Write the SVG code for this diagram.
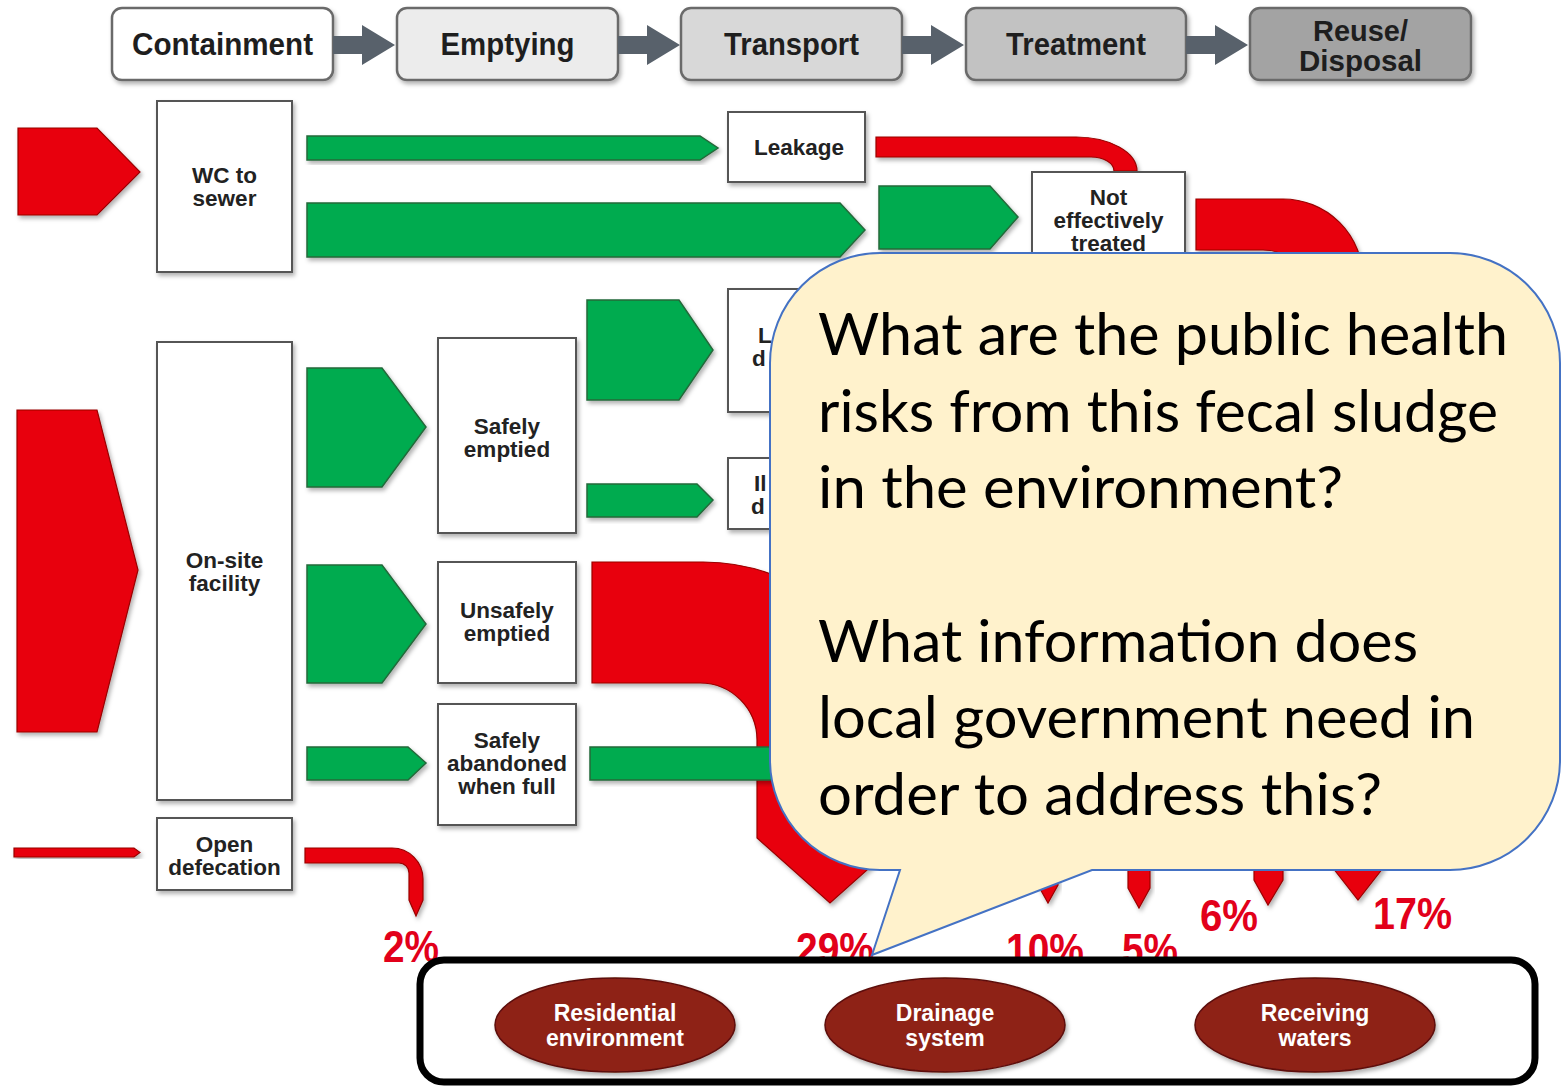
<svg xmlns="http://www.w3.org/2000/svg" width="1563" height="1086" viewBox="0 0 1563 1086">
<defs>
<filter id="sh" x="-10%" y="-10%" width="130%" height="130%"><feDropShadow dx="2" dy="3" stdDeviation="2" flood-color="#000" flood-opacity="0.3"/></filter>
<style>
.hb{stroke:#6b6b6b;stroke-width:2.5;filter:url(#sh)}
.ht{font-family:"Liberation Sans",Arial,sans-serif;font-weight:bold;font-size:32px;fill:#1e1e1e;text-anchor:middle}
.ht2{font-family:"Liberation Sans",Arial,sans-serif;font-weight:bold;font-size:29px;fill:#1e1e1e;text-anchor:middle}
.ha{fill:#58616b}
.box{fill:#fff;stroke:#555;stroke-width:2;filter:url(#sh)}
.bt{font-family:"Liberation Sans",Arial,sans-serif;font-weight:bold;font-size:22.5px;fill:#222;text-anchor:middle}
.bs{font-family:"Liberation Sans",Arial,sans-serif;font-weight:bold;font-size:22.5px;fill:#222}
.g{fill:#00ab4f;stroke:#24693a;stroke-width:1.5;filter:url(#sh)}
.r{fill:#e8000d;stroke:#9a0000;stroke-width:1.2;filter:url(#sh)}
.pc{font-family:"Liberation Sans",Arial,sans-serif;font-weight:bold;font-size:44px;fill:#e2001a}
.el{fill:#8e2118;stroke:#5c0e08;stroke-width:1.5;filter:url(#sh)}
.et{font-family:"Liberation Sans",Arial,sans-serif;font-weight:bold;font-size:23px;fill:#fff;text-anchor:middle}
.ct{font-family:Lato,"Open Sans",sans-serif;font-size:58px;fill:#000}
</style>
</defs>
<rect width="1563" height="1086" fill="#fff"/>

<g id="header">
  <g id="h-containment"><rect class="hb" x="112" y="8" width="221" height="72" rx="10" fill="#ffffff"/><text class="ht" x="222.5" y="55" textLength="181" lengthAdjust="spacingAndGlyphs">Containment</text></g>
  <g id="h-emptying"><rect class="hb" x="397" y="8" width="221" height="72" rx="10" fill="#ececec"/><text class="ht" x="507.5" y="55" textLength="134" lengthAdjust="spacingAndGlyphs">Emptying</text></g>
  <g id="h-transport"><rect class="hb" x="681" y="8" width="221" height="72" rx="10" fill="#d8d8d8"/><text class="ht" x="791.5" y="55" textLength="135" lengthAdjust="spacingAndGlyphs">Transport</text></g>
  <g id="h-treatment"><rect class="hb" x="966" y="8" width="220" height="72" rx="10" fill="#c2c2c2"/><text class="ht" x="1076" y="55" textLength="140" lengthAdjust="spacingAndGlyphs">Treatment</text></g>
  <g id="h-reuse"><rect class="hb" x="1250" y="8" width="221" height="72" rx="10" fill="#a3a3a3"/><text class="ht2" x="1360.5" y="41" textLength="95" lengthAdjust="spacingAndGlyphs">Reuse/</text><text class="ht2" x="1360.5" y="71" textLength="123" lengthAdjust="spacingAndGlyphs">Disposal</text></g>
  <g id="header-arrows">
    <polygon class="ha" points="333,36 362,36 362,25 395,45 362,65 362,54 333,54"/>
    <polygon class="ha" points="618,36 647,36 647,25 680,45 647,65 647,54 618,54"/>
    <polygon class="ha" points="902,36 931,36 931,25 964,45 931,65 931,54 902,54"/>
    <polygon class="ha" points="1186,36 1215,36 1215,25 1248,45 1215,65 1215,54 1186,54"/>
  </g>
</g>

<g id="connectors">
  <polygon class="r" points="18,128 97,128 140,172 97,215 18,215"/>
  <polygon class="r" points="17,410 97,410 138,570 97,732 17,732"/>
  <polygon class="r" points="14,848 134,848 140,852.5 134,857 14,857"/>
  <path class="r" d="M876,137 H1076 A61,34 0 0 1 1137,171 H1114 A23,14 0 0 0 1091,157 H876 Z"/>
  <path class="r" d="M1196,199 H1283 A80,80 0 0 1 1363,279 V320 H1313 V300 A50,50 0 0 0 1263,250 H1196 Z"/>
  <path class="r" d="M592,562 H703 A200,200 0 0 1 903,762 V838 L830,903 L757,838 V740 A57,57 0 0 0 700,683 H592 Z"/>
  <path class="r" d="M305,848 H392 A31,31 0 0 1 423,879 V900 L416,916 L409,900 V873 A10,10 0 0 0 399,863 H305 Z"/>
  <polygon class="r" points="1038,850 1058,850 1058,885 1048,903 1038,885"/>
  <polygon class="r" points="1128,850 1150,850 1150,888 1139,908 1128,888"/>
  <polygon class="r" points="1254,850 1283,850 1283,880 1268,905 1254,880"/>
  <polygon class="r" points="1333,850 1383,850 1383,868 1358,900 1333,868"/>
  <polygon class="g" points="307,136 700,136 718,148 700,160 307,160"/>
  <polygon class="g" points="307,203 840,203 865,230 840,257 307,257"/>
  <polygon class="g" points="879,186 990,186 1018,217 990,249 879,249"/>
  <polygon class="g" points="307,368 382,368 426,427 382,487 307,487"/>
  <polygon class="g" points="587,300 679,300 713,350 679,400 587,400"/>
  <polygon class="g" points="587,484 697,484 713,500 697,517 587,517"/>
  <polygon class="g" points="307,565 382,565 426,624 382,683 307,683"/>
  <polygon class="g" points="307,747 408,747 426,763 408,780 307,780"/>
  <polygon class="g" points="590,747 800,747 800,780 590,780"/>
</g>

<g id="n-wc"><rect class="box" x="157" y="101" width="135" height="171"/><text class="bt" x="224.5" y="183">WC to</text><text class="bt" x="224.5" y="206">sewer</text></g>
<g id="n-leakage"><rect class="box" x="728" y="112" width="137" height="70"/><text class="bt" x="799" y="155">Leakage</text></g>
<g id="n-noteff"><rect class="box" x="1032" y="172" width="153" height="90"/><text class="bt" x="1108.5" y="205">Not</text><text class="bt" x="1108.5" y="228">effectively</text><text class="bt" x="1108.5" y="251">treated</text></g>
<g id="n-onsite"><rect class="box" x="157" y="342" width="135" height="458"/><text class="bt" x="224.5" y="568">On-site</text><text class="bt" x="224.5" y="591">facility</text></g>
<g id="n-safely"><rect class="box" x="438" y="338" width="138" height="195"/><text class="bt" x="507" y="434">Safely</text><text class="bt" x="507" y="457">emptied</text></g>
<g id="n-legal"><rect class="box" x="728" y="289" width="137" height="123"/><text class="bs" x="758" y="343">L</text><text class="bs" x="752" y="366">d</text></g>
<g id="n-illegal"><rect class="box" x="728" y="458" width="137" height="71"/><text class="bs" x="754" y="491">Il</text><text class="bs" x="751" y="514">d</text></g>
<g id="n-unsafely"><rect class="box" x="438" y="562" width="138" height="121"/><text class="bt" x="507" y="618">Unsafely</text><text class="bt" x="507" y="641">emptied</text></g>
<g id="n-abandoned"><rect class="box" x="438" y="704" width="138" height="121"/><text class="bt" x="507" y="748">Safely</text><text class="bt" x="507" y="771">abandoned</text><text class="bt" x="507" y="794">when full</text></g>
<g id="n-open"><rect class="box" x="157" y="818" width="135" height="72"/><text class="bt" x="224.5" y="852">Open</text><text class="bt" x="224.5" y="875">defecation</text></g>

<g id="percentages">
  <text class="pc" x="383" y="962" textLength="56" lengthAdjust="spacingAndGlyphs">2%</text>
  <text class="pc" x="796" y="964" textLength="78" lengthAdjust="spacingAndGlyphs">29%</text>
  <text class="pc" x="1006" y="965" textLength="78" lengthAdjust="spacingAndGlyphs">10%</text>
  <text class="pc" x="1122" y="965" textLength="56" lengthAdjust="spacingAndGlyphs">5%</text>
  <text class="pc" x="1200" y="931" textLength="58" lengthAdjust="spacingAndGlyphs">6%</text>
  <text class="pc" x="1373" y="929" textLength="79" lengthAdjust="spacingAndGlyphs">17%</text>
</g>

<g id="destinations">
  <rect x="420" y="960" width="1115" height="122" rx="24" fill="#fff" stroke="#000" stroke-width="7"/>
  <g id="n-residential"><ellipse class="el" cx="615" cy="1025" rx="120" ry="47"/><text class="et" x="615" y="1021">Residential</text><text class="et" x="615" y="1046">environment</text></g>
  <g id="n-drainage"><ellipse class="el" cx="945" cy="1025" rx="120" ry="47"/><text class="et" x="945" y="1021">Drainage</text><text class="et" x="945" y="1046">system</text></g>
  <g id="n-receiving"><ellipse class="el" cx="1315" cy="1025" rx="120" ry="47"/><text class="et" x="1315" y="1021">Receiving</text><text class="et" x="1315" y="1046">waters</text></g>
</g>

<g id="callout">
  <path d="M880,253 H1450 A110,110 0 0 1 1560,363 V760 A110,110 0 0 1 1450,870 H1092 L872,955 L900,870 H880 A110,110 0 0 1 770,760 V363 A110,110 0 0 1 880,253 Z" fill="#fff2cc" stroke="#4472c4" stroke-width="2"/>
  <text class="ct" x="818" y="355" textLength="690" lengthAdjust="spacingAndGlyphs">What are the public health</text>
  <text class="ct" x="818" y="432" textLength="680" lengthAdjust="spacingAndGlyphs">risks from this fecal sludge</text>
  <text class="ct" x="818" y="508" textLength="525" lengthAdjust="spacingAndGlyphs">in the environment?</text>
  <text class="ct" x="818" y="662" textLength="600" lengthAdjust="spacingAndGlyphs">What information does</text>
  <text class="ct" x="818" y="738" textLength="657" lengthAdjust="spacingAndGlyphs">local government need in</text>
  <text class="ct" x="818" y="815" textLength="564" lengthAdjust="spacingAndGlyphs">order to address this?</text>
</g>
</svg>
